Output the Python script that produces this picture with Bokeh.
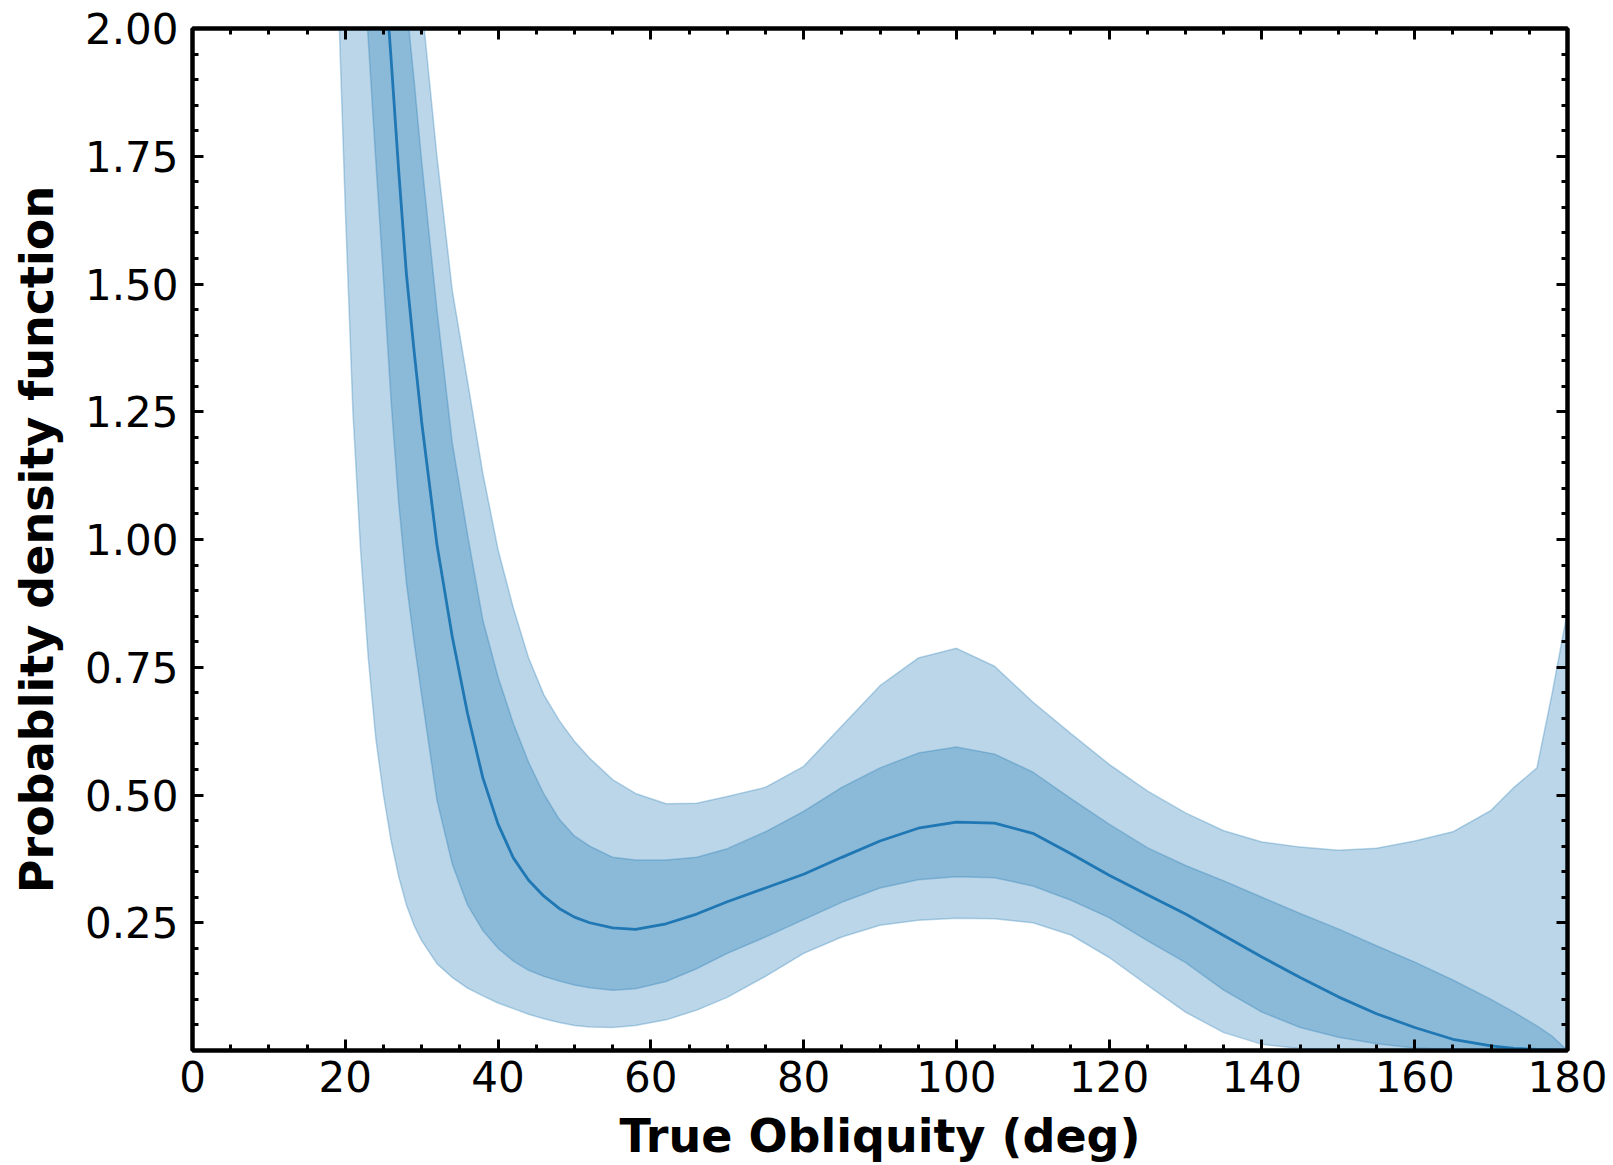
from bokeh.plotting import figure
from bokeh.models import (ColumnDataSource, LinearAxis, FixedTicker,
                          PrintfTickFormatter, Range1d)
from bokeh.embed import file_html
from bokeh.resources import INLINE

# True obliquity grid (deg)
obliquity = [18, 19, 20, 21, 22, 23, 24, 25, 26, 27, 28, 29, 30,
             32, 34, 36, 38, 40, 42, 44, 46, 48, 50, 52, 55, 58, 62, 66, 70,
             75, 80, 85, 90, 95, 100, 105, 110, 115, 120, 125, 130, 135, 140,
             145, 150, 155, 160, 165, 170, 173, 176, 178, 180]

# posterior median of the PDF
pdf_median = [3.8, 3.5, 3.2, 2.9, 2.7, 2.5, 2.33, 2.15, 1.94, 1.72, 1.52, 1.37, 1.23,
              0.99, 0.81, 0.66, 0.534, 0.443, 0.377, 0.333, 0.302, 0.278, 0.261, 0.25,
              0.24, 0.237, 0.248, 0.267, 0.291,
              0.318, 0.345, 0.378, 0.41, 0.435, 0.447, 0.445, 0.425, 0.385, 0.343,
              0.305, 0.267, 0.225, 0.183, 0.143, 0.105, 0.072, 0.045, 0.022, 0.009,
              0.004, 0.002, 0.001, 0.0]

# 68% interval
pdf_lo68 = [3.3, 3.0, 2.7, 2.43, 2.2, 1.98, 1.74, 1.51, 1.27, 1.07, 0.915, 0.80, 0.695,
            0.49, 0.365, 0.285, 0.235, 0.20, 0.175, 0.157, 0.145, 0.136, 0.128, 0.123,
            0.118, 0.121, 0.135, 0.16, 0.19,
            0.222, 0.256, 0.29, 0.318, 0.334, 0.34, 0.338, 0.322, 0.294, 0.26,
            0.215, 0.172, 0.118, 0.075, 0.045, 0.026, 0.013, 0.005, 0.002, 0.001,
            0.0, 0.0, 0.0, 0.0]
pdf_hi68 = [4.2, 4.0, 3.75, 3.5, 3.25, 3.0, 2.75, 2.5, 2.32, 2.18, 2.05, 1.9, 1.74,
            1.45, 1.19, 1.01, 0.843, 0.731, 0.64, 0.564, 0.502, 0.453, 0.42, 0.40,
            0.378, 0.373, 0.373, 0.378, 0.395,
            0.428, 0.468, 0.515, 0.553, 0.582, 0.594, 0.58, 0.545, 0.493, 0.443,
            0.397, 0.362, 0.332, 0.30, 0.268, 0.238, 0.205, 0.173, 0.138, 0.10,
            0.075, 0.048, 0.028, 0.0]

# 95% interval
pdf_lo95 = [2.6, 2.1, 1.65, 1.25, 0.98, 0.77, 0.61, 0.50, 0.41, 0.34, 0.285, 0.245, 0.215,
            0.17, 0.143, 0.122, 0.107, 0.093, 0.082, 0.071, 0.062, 0.055, 0.049, 0.046,
            0.045, 0.049, 0.06, 0.079, 0.104,
            0.145, 0.19, 0.222, 0.245, 0.255, 0.259, 0.258, 0.25, 0.226, 0.182,
            0.128, 0.075, 0.035, 0.012, 0.004, 0.001, 0.0, 0.0, 0.0, 0.0,
            0.0, 0.0, 0.0, 0.0]
pdf_hi95 = [5.6, 5.2, 4.8, 4.4, 4.0, 3.6, 3.25, 2.95, 2.7, 2.5, 2.33, 2.18, 2.05,
            1.75, 1.488, 1.31, 1.13, 0.98, 0.866, 0.768, 0.696, 0.646, 0.605, 0.572,
            0.53, 0.503, 0.483, 0.484, 0.497,
            0.515, 0.556, 0.635, 0.714, 0.768, 0.787, 0.752, 0.682, 0.62, 0.56,
            0.508, 0.465, 0.43, 0.408, 0.398, 0.392, 0.396, 0.41, 0.428, 0.47,
            0.515, 0.553, 0.70, 0.86]

x_ticks = [0, 20, 40, 60, 80, 100, 120, 140, 160, 180]
y_ticks = [0.25, 0.50, 0.75, 1.00, 1.25, 1.50, 1.75, 2.00]

BLUE = "#1f77b4"
FONT = "DejaVu Sans"

src = ColumnDataSource(dict(x=obliquity, med=pdf_median,
                            lo68=pdf_lo68, hi68=pdf_hi68,
                            lo95=pdf_lo95, hi95=pdf_hi95))

p = figure(width=1613, height=1165,
           x_range=Range1d(0, 180), y_range=Range1d(0, 2),
           output_backend="svg", toolbar_location=None,
           min_border_left=192, min_border_right=46,
           min_border_top=28, min_border_bottom=115,
           x_axis_label="True Obliquity (deg)",
           y_axis_label="Probablity density function")

p.xgrid.visible = False
p.ygrid.visible = False
p.background_fill_color = "white"
p.border_fill_color = "white"
p.outline_line_color = "black"
p.outline_line_width = 4

# credible bands, stacked translucent fills
p.varea(x="x", y1="lo95", y2="hi95", source=src, fill_color=BLUE, fill_alpha=0.3)
p.varea(x="x", y1="lo68", y2="hi68", source=src, fill_color=BLUE, fill_alpha=0.3)
for col in ["lo95", "hi95", "lo68", "hi68"]:
    p.line(x="x", y=col, source=src, line_color=BLUE, line_alpha=0.3, line_width=1.5)
p.line(x="x", y="med", source=src, line_color=BLUE, line_width=2.8)

x_minor = [v for v in range(0, 181, 5) if v % 20 != 0]
y_minor = [round(0.05 * i, 2) for i in range(1, 40) if i % 5 != 0]
xt = FixedTicker(ticks=x_ticks, minor_ticks=x_minor)
yt = FixedTicker(ticks=y_ticks, minor_ticks=y_minor)


def style_axis(ax, labels=True):
    ax.axis_line_color = "black"
    ax.axis_line_width = 4
    ax.major_tick_line_color = "black"
    ax.major_tick_line_width = 3
    ax.minor_tick_line_color = "black"
    ax.minor_tick_line_width = 3
    ax.major_tick_in = 11
    ax.major_tick_out = 0
    ax.minor_tick_in = 6
    ax.minor_tick_out = 0
    if labels:
        ax.major_label_text_font = FONT
        ax.major_label_text_font_size = "42px"
        ax.major_label_text_color = "black"
        ax.axis_label_text_font = FONT
        ax.axis_label_text_font_size = "46px"
        ax.axis_label_text_font_style = "bold"
        ax.axis_label_text_color = "black"
    else:
        # tick marks only on the mirrored sides
        ax.major_label_text_color = None
        ax.major_label_text_font_size = "1px"
        ax.major_label_standoff = 0
        ax.axis_label = None


xa = p.xaxis[0]
xa.ticker = xt
style_axis(xa)
xa.major_label_standoff = 10
xa.axis_label_standoff = 14

ya = p.yaxis[0]
ya.ticker = yt
ya.formatter = PrintfTickFormatter(format="%.2f")
style_axis(ya)
ya.major_label_standoff = 14
ya.axis_label_standoff = 18

top = LinearAxis(ticker=FixedTicker(ticks=x_ticks, minor_ticks=x_minor))
style_axis(top, labels=False)
p.add_layout(top, "above")

right = LinearAxis(ticker=FixedTicker(ticks=y_ticks, minor_ticks=y_minor))
style_axis(right, labels=False)
p.add_layout(right, "right")

open("out.html", "w").write(file_html(p, INLINE))
